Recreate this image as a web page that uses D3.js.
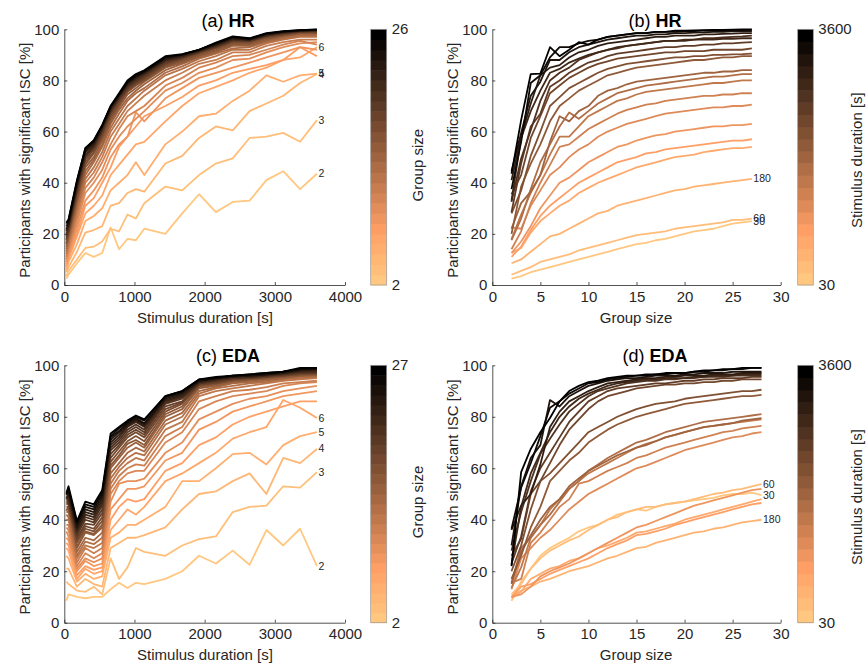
<!DOCTYPE html>
<html>
<head>
<meta charset="utf-8">
<script src="https://cdn.jsdelivr.net/npm/d3@7"></script>
<style>
  body { margin: 0; background: #fff; }
  svg { font-family: "Liberation Sans", Arial, Helvetica, sans-serif; }
</style>
</head>
<body>
<div id="chart"></div>
<script>
// stimulus durations [s] (columns) and group sizes (rows)
const durations = [30, 60, 180, 300, 420, 540, 660, 780, 900, 1020, 1140, 1440, 1680, 1920, 2160, 2400, 2640, 2880, 3120, 3360, 3600];
const hrGroups = [2, 3, 4, 5, 6, 7, 8, 9, 10, 11, 12, 13, 14, 15, 16, 17, 18, 19, 20, 21, 22, 23, 24, 25, 26, 27];
const edaGroups = [2, 3, 4, 5, 6, 7, 8, 9, 10, 11, 12, 13, 14, 15, 16, 17, 18, 19, 20, 21, 22, 23, 24, 25, 26, 27, 28];

const yTicks = [0, 20, 40, 60, 80, 100];
const durationTicks = [0, 1000, 2000, 3000, 4000];
const groupTicks = [0, 5, 10, 15, 20, 25, 30];

// HR: % participants with significant ISC, one row per group size (2..27), one value per duration
const hrByGroup = [
  [2.5, 4, 8.5, 12.5, 11, 12.5, 22.5, 14, 18, 17.5, 22, 20, 28, 35.5, 28.5, 32.5, 33, 41, 44.5, 37.5, 43.5],
  [3.5, 5.5, 10, 14.5, 15, 17, 22, 21, 27.5, 26, 32, 38.5, 37, 43, 47.5, 49.5, 57.5, 58, 59.5, 56, 64.5],
  [5, 7, 13, 20.5, 21.5, 23, 31, 32, 36, 37.5, 36.5, 47.5, 50.5, 57.5, 62, 60.5, 68, 71, 74, 79, 82.5],
  [6, 9, 16, 25, 27, 30, 37, 40, 43, 48, 43, 55, 60, 66, 67, 72, 76, 82, 79.5, 82, 82.7],
  [7, 10, 19, 28, 31, 35, 43, 47, 51, 55, 56, 64, 70, 75, 77.5, 80, 83, 85, 88, 89, 93],
  [8, 11, 20, 31, 34, 40, 46, 54, 58, 62, 66, 70, 73.5, 78, 80, 83, 84.5, 86, 88, 93, 89.5],
  [9, 12, 22, 33, 37, 42, 50, 55, 58, 67.5, 64, 73, 77, 81, 83, 85, 87, 89, 91, 93, 92],
  [10, 13.5, 24, 36, 40, 45, 53, 58, 62, 65, 68, 76, 79, 83, 85, 88, 88.5, 91, 93, 94.5, 95],
  [11, 14.5, 26, 38, 42, 48, 55, 61, 66, 68, 70, 78, 81, 85, 87, 89.5, 90, 92, 94, 95.5, 94],
  [12, 15.5, 28, 40, 44, 50, 58, 63, 68, 71, 74, 80, 83, 86.5, 88, 91, 91, 93.5, 95, 96, 96],
  [13, 16.5, 29, 41.5, 46, 52, 60, 65, 70, 73, 76, 82, 84.5, 87.5, 89.5, 92, 92, 94.5, 96, 97, 97],
  [14, 17.5, 31, 43, 48, 54, 61.5, 67, 72, 75, 77, 83, 85.5, 88.5, 90.5, 92.5, 93, 95, 96.5, 97.5, 97.5],
  [15, 18.5, 32, 44.5, 49, 55, 63, 68.5, 73, 76, 78.5, 84, 86.5, 89, 91, 93.5, 93.5, 95.5, 97, 98, 98],
  [16, 19.5, 33, 46, 50, 56.5, 64, 69.5, 74.5, 77, 79.5, 85, 87, 89.5, 91.5, 94, 94, 96, 97.5, 98.5, 98.5],
  [16.5, 20, 34, 47, 51.5, 57.5, 65, 70.5, 75.5, 78, 80, 85.5, 87.5, 90, 92, 94.5, 94.5, 96.5, 97.5, 98.5, 98.5],
  [17.5, 20.5, 35, 48, 52, 58.5, 66, 71, 76, 78.5, 80.5, 86, 88, 90.5, 92.5, 95, 95, 97, 98, 99, 99],
  [18, 21, 36, 49, 53, 59, 67, 72, 76.5, 79, 81, 86.5, 88.5, 91, 93, 95.5, 95.5, 97, 98, 99, 99],
  [19, 22, 37, 50, 53.5, 60, 67.5, 72.5, 77, 79.5, 81.5, 87, 89, 91, 93, 95.5, 95.5, 97.5, 98.5, 99, 99.5],
  [20, 22.5, 37.5, 50.5, 54, 60.5, 68, 73, 77.5, 80, 82, 87.5, 89, 91.5, 93.5, 96, 95.5, 97.5, 98.5, 99.3, 99.5],
  [21, 23, 38.5, 51, 54.5, 61, 68.5, 73.5, 78, 80.5, 82.5, 88, 89.5, 91.5, 93.5, 96, 96, 97.5, 98.7, 99.3, 99.6],
  [21.5, 23.5, 39, 52, 55, 61.5, 69, 74, 78.5, 81, 83, 88, 89.5, 91.5, 94, 96.5, 96, 98, 98.8, 99.5, 99.7],
  [22, 24, 39.5, 52.5, 55.5, 62, 69.5, 74, 79, 81.5, 83, 88.5, 90, 92, 94, 96.5, 96, 98, 99, 99.5, 99.8],
  [23, 24.5, 40, 53, 56, 62, 69.5, 74.5, 79, 81.5, 83.5, 89, 90, 92, 94.5, 96.8, 96.3, 98.2, 99, 99.6, 99.8],
  [24, 25.5, 40.5, 53.5, 56.5, 62.5, 70, 74.5, 79.5, 82, 83.5, 89, 90.2, 92, 94.5, 97, 96.3, 98.3, 99.2, 99.7, 99.9],
  [24.5, 25.5, 41, 53.5, 56.5, 62.5, 70, 75, 80, 82.5, 84, 89.5, 90.3, 92, 94.8, 97.2, 96.5, 98.5, 99.3, 99.7, 100],
  [25, 26, 41.5, 54, 57, 63, 70.5, 75, 80, 82.5, 84, 89.5, 90.5, 92.5, 95, 97.5, 96.5, 98.5, 99.3, 99.8, 100]
];

// EDA: one row per duration, one value per group size (2..28)
const edaByDuration = [
  [8.5, 16, 21, 26, 29, 31, 33, 35.5, 37, 38, 40, 42, 43, 44, 43.5, 45, 46, 46.5, 47, 47.5, 48, 48.5, 49.5, 50, 50, 50.5, 49.6],
  [11, 15, 21, 25, 28, 30, 32, 33.5, 36, 38, 40, 41, 43, 44, 45, 45, 46, 46.5, 47, 48, 49, 50, 50.5, 51.5, 52, 53, 53.8],
  [10, 12.5, 14, 16, 17, 18.5, 20, 21, 22, 23.5, 25, 26, 27.5, 29, 29.5, 31, 32, 33, 34, 35, 35.5, 36.5, 37, 38, 39, 39.5, 40],
  [9.5, 12, 17, 19, 21, 22, 24, 25, 27, 29, 30, 31.5, 33, 35, 35.5, 36.5, 37.5, 38.5, 40, 41, 42, 43, 44, 45, 46, 47, 48],
  [10, 14, 15, 17, 19, 20.5, 22, 23.5, 25, 27, 29, 30.5, 32, 34, 34.5, 35.5, 36.5, 38, 39, 40, 41, 42, 43, 44, 45, 46, 46.5],
  [10, 11, 14, 18, 20, 21.5, 23, 25, 27, 29, 31, 33, 35, 37, 38, 39.5, 41, 42.5, 44, 45.5, 46.5, 47.5, 48.5, 49.5, 50.5, 51.5, 52],
  [13, 25, 29, 33, 36, 40, 44, 47, 50, 52, 54, 56, 58, 60, 61, 62.5, 64, 65.5, 67, 68, 69, 70, 71, 72, 72.5, 73.5, 74],
  [15.5, 17, 31, 35, 40, 45, 48, 54, 55, 57, 59, 60.5, 62, 64, 65, 66.5, 68, 69, 70, 71, 72, 73, 74, 74.5, 75.5, 76, 76.5],
  [13.5, 21.5, 33, 38, 44, 48, 52, 55, 58, 60, 62, 64, 66, 68, 69.5, 70.5, 72, 73, 74, 75, 76, 76.5, 77, 77.5, 78, 78.5, 79],
  [15.5, 29, 33, 38, 42, 47, 52, 55, 59, 61.5, 64, 66, 68, 70, 71, 72.5, 74, 75, 76, 77, 78, 78.5, 79, 79.5, 80, 80.5, 81],
  [15, 27.5, 34, 40, 45, 48, 53, 56, 59, 61, 63, 65, 66.5, 68, 69, 70.5, 72, 73, 74, 75, 76, 76.5, 77, 77.5, 78.5, 79, 79.5],
  [17, 26, 37, 45, 55, 59, 63, 66, 70, 72.5, 75, 77, 78.5, 80, 81, 82, 83, 84, 85, 85.5, 86, 86.5, 87, 87.5, 88, 88, 88.5],
  [20, 30, 44, 55, 58, 62, 66, 70, 74, 76, 78, 80, 81.5, 83, 84, 85, 85.5, 86, 87, 87.5, 88, 88.5, 89, 89.5, 90, 90, 90.5],
  [26, 32.5, 50, 55, 62, 69, 75, 79, 83, 86, 88, 89, 90, 91, 91.5, 92, 92.5, 92.5, 93, 93, 93.5, 93.5, 94, 94, 94.5, 94.5, 94.5],
  [23, 33.5, 51, 60, 66, 72, 78, 82, 86, 88, 90, 91, 91.5, 92, 92.5, 93, 93, 93.5, 94, 94, 94.5, 94.5, 95, 95, 95, 95.5, 95.5],
  [28, 43, 55, 65.5, 71.5, 77, 82, 85, 88, 90, 91, 92, 93, 93.5, 94, 94, 94.5, 94.5, 95, 95, 95.5, 95.5, 95.5, 96, 96, 96, 96],
  [22.5, 45, 58, 66, 74, 80, 84, 87, 89, 90.5, 92, 93, 93.5, 94, 94.5, 94.5, 95, 95, 95, 95.5, 95.5, 96, 96, 96, 96.5, 96.5, 96.5],
  [36, 45.5, 50, 61.5, 76, 82, 86, 88, 90, 91.5, 93, 93.5, 94, 94.5, 95, 95, 95.5, 95.5, 96, 96, 96, 96.5, 96.5, 96.5, 97, 97, 97],
  [30, 53, 64, 69, 86.5, 84, 88, 90, 92, 93, 94, 94.5, 95, 95, 95.5, 96, 96, 96, 96.5, 96.5, 97, 97, 97, 97.5, 97.5, 97.5, 97.5],
  [36.5, 52.5, 62, 72.5, 83.5, 86, 89, 91, 93, 93.5, 94.5, 95, 95.5, 96, 96, 96.5, 96.5, 97, 97, 97.5, 97.5, 98, 98, 98.5, 98.5, 99, 99],
  [22, 58.5, 67.5, 74, 79.5, 86, 90, 92, 93.5, 94, 95, 95.5, 96, 96, 96.5, 96.5, 97, 97, 97, 97.5, 98, 98, 98.5, 98.5, 99, 99, 99]
];

const labelledGroups = [2, 3, 4, 5, 6];
const labelledDurations = [30, 60, 180];

const W = 867, H = 664;
const ink = "#262626";
const fs = 15;

const svg = d3.select("#chart").append("svg")
  .attr("width", W)
  .attr("height", H);

svg.append("rect").attr("width", W).attr("height", H).attr("fill", "#fff");

// reversed matlab copper: t = 0 light peach, t = 1 black
function copper(t) {
  const x = 1 - t;
  return d3.rgb(255 * Math.min(1, 1.25 * x), 255 * 0.7812 * x, 255 * 0.4975 * x).formatHex();
}

function drawPanel(p) {
  const x = d3.scaleLinear().domain(p.xDomain).range([p.left, p.right]);
  const y = d3.scaleLinear().domain([0, 100]).range([p.bottom, p.top]);
  const g = svg.append("g");

  const line = d3.line().x(d => x(d[0])).y(d => y(d[1]));

  g.selectAll("path.series")
    .data(p.series)
    .join("path")
    .attr("class", "series")
    .attr("d", s => line(s.points))
    .attr("fill", "none")
    .attr("stroke", s => copper(s.t))
    .attr("stroke-width", 1.8)
    .attr("stroke-linejoin", "round");

  g.selectAll("text.end")
    .data(p.series.filter(s => s.label))
    .join("text")
    .attr("class", "end")
    .attr("x", s => x(s.points[s.points.length - 1][0]) + 1.5)
    .attr("y", s => y(s.points[s.points.length - 1][1]) + 3.5)
    .attr("font-size", 10.5)
    .attr("fill", ink)
    .text(s => s.label);

  const xAxis = d3.axisBottom(x).tickValues(p.xTicks).tickFormat(d3.format("d"))
    .tickSizeInner(-3).tickSizeOuter(0).tickPadding(6);
  const yAxis = d3.axisLeft(y).tickValues(yTicks).tickFormat(d3.format("d"))
    .tickSizeInner(-3).tickSizeOuter(0).tickPadding(5);

  const gx = g.append("g").attr("transform", `translate(0,${p.bottom})`).call(xAxis);
  const gy = g.append("g").attr("transform", `translate(${p.left},0)`).call(yAxis);
  [gx, gy].forEach(a => {
    a.selectAll("path.domain").attr("stroke", ink).attr("stroke-width", 0.8);
    a.selectAll(".tick line").attr("stroke", ink).attr("stroke-width", 0.8);
    a.selectAll(".tick text").attr("fill", ink).attr("font-size", fs)
      .attr("font-family", "'Liberation Sans', Arial, sans-serif");
  });

  // title
  const t = g.append("text")
    .attr("x", p.titleX).attr("y", p.titleY)
    .attr("text-anchor", "middle")
    .attr("font-size", 18)
    .attr("fill", "#000");
  t.append("tspan").text(p.tag + " ");
  t.append("tspan").attr("font-weight", "bold").text(p.name);

  g.append("text")
    .attr("x", p.xLabelX).attr("y", p.xLabelY)
    .attr("text-anchor", "middle")
    .attr("font-size", fs)
    .attr("fill", ink)
    .text(p.xLabel);

  g.append("text")
    .attr("transform", `translate(${p.yLabelX},${(p.top + p.bottom) / 2 + 3}) rotate(-90)`)
    .attr("text-anchor", "middle")
    .attr("font-size", fs)
    .attr("fill", ink)
    .text("Participants with significant ISC [%]");

  // colorbar, one block per line
  const n = p.series.length;
  const cb = p.cbar;
  const bh = (p.bottom - p.top) / n;
  const cg = g.append("g");
  cg.selectAll("rect.block")
    .data(d3.range(n))
    .join("rect")
    .attr("class", "block")
    .attr("x", cb.left)
    .attr("y", i => p.bottom - (i + 1) * bh)
    .attr("width", cb.width)
    .attr("height", bh + 0.5)
    .attr("fill", i => copper(i / (n - 1)));
  cg.append("rect")
    .attr("x", cb.left).attr("y", p.top)
    .attr("width", cb.width).attr("height", p.bottom - p.top)
    .attr("fill", "none").attr("stroke", "#9a9a9a").attr("stroke-width", 0.7);
  cg.append("text").attr("x", cb.left + cb.width + 5).attr("y", p.top + 5)
    .attr("font-size", fs).attr("fill", ink).text(cb.topLabel);
  cg.append("text").attr("x", cb.left + cb.width + 5).attr("y", p.bottom + 5)
    .attr("font-size", fs).attr("fill", ink).text(cb.bottomLabel);
  cg.append("text")
    .attr("transform", `translate(${cb.titleX},${(p.top + p.bottom) / 2 + cb.titleDy}) rotate(-90)`)
    .attr("text-anchor", "middle")
    .attr("font-size", fs)
    .attr("fill", ink)
    .text(cb.title);
}

// series built from the data tables
const hrA = hrGroups.filter(gs => gs <= 26).map((gs, i, arr) => ({
  points: durations.map((d, j) => [d, hrByGroup[i][j]]),
  t: i / (arr.length - 1),
  label: labelledGroups.includes(gs) ? String(gs) : null
}));
const hrB = durations.map((d, j) => ({
  points: hrGroups.map((gs, i) => [gs, hrByGroup[i][j]]),
  t: j / (durations.length - 1),
  label: labelledDurations.includes(d) ? String(d) : null
}));
const edaC = edaGroups.filter(gs => gs <= 27).map((gs, i, arr) => ({
  points: durations.map((d, j) => [d, edaByDuration[j][i]]),
  t: i / (arr.length - 1),
  label: labelledGroups.includes(gs) ? String(gs) : null
}));
const edaD = durations.map((d, j) => ({
  points: edaGroups.map((gs, i) => [gs, edaByDuration[j][i]]),
  t: j / (durations.length - 1),
  label: labelledDurations.includes(d) ? String(d) : null
}));

const leftCol = { left: 64.3, right: 345, xDomain: [0, 4000], xTicks: durationTicks,
  xLabel: "Stimulus duration [s]", xLabelX: 205, titleX: 228, yLabelX: 30 };
const rightCol = { left: 492.3, right: 780.7, xDomain: [0, 30], xTicks: groupTicks,
  xLabel: "Group size", xLabelX: 636, titleX: 655, yLabelX: 458 };
const topRow = { top: 29.3, bottom: 285, titleY: 27, xLabelY: 323 };
const botRow = { top: 365.3, bottom: 622.7, titleY: 362, xLabelY: 660 };

drawPanel({ ...leftCol, ...topRow, tag: "(a)", name: "HR", series: hrA,
  cbar: { left: 370.7, width: 16, topLabel: "26", bottomLabel: "2", title: "Group size", titleX: 423, titleDy: 8 } });
drawPanel({ ...rightCol, ...topRow, tag: "(b)", name: "HR", series: hrB,
  cbar: { left: 797.7, width: 15.6, topLabel: "3600", bottomLabel: "30", title: "Stimulus duration [s]", titleX: 862, titleDy: 3 } });
drawPanel({ ...leftCol, ...botRow, tag: "(c)", name: "EDA", series: edaC,
  cbar: { left: 370.7, width: 16, topLabel: "27", bottomLabel: "2", title: "Group size", titleX: 423, titleDy: 8 } });
drawPanel({ ...rightCol, ...botRow, tag: "(d)", name: "EDA", series: edaD,
  cbar: { left: 797.7, width: 15.6, topLabel: "3600", bottomLabel: "30", title: "Stimulus duration [s]", titleX: 862, titleDy: 3 } });
</script>
</body>
</html>
